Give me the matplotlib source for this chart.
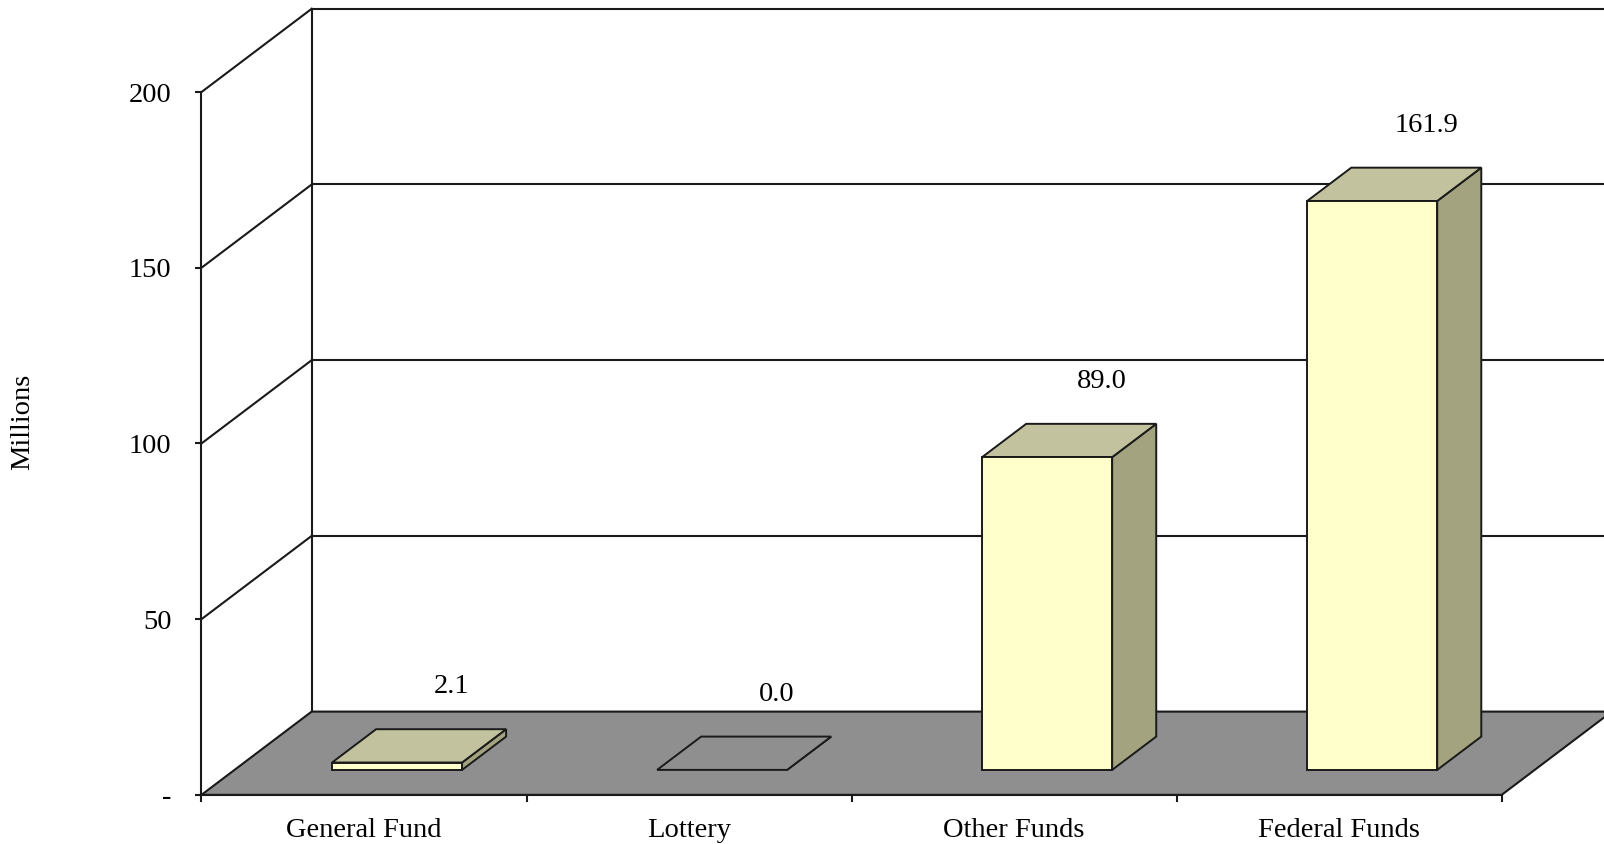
"""Funding by source, drawn as an Excel-style 3D column chart with plain 2D patches."""
import matplotlib
matplotlib.use("Agg")
import matplotlib.pyplot as plt
from matplotlib.patches import Polygon

CATEGORIES = ["General Fund", "Lottery", "Other Funds", "Federal Funds"]
VALUES = [2.1, 0.0, 89.0, 161.9]
Y_TICKS = [0, 50, 100, 150, 200]
Y_TICK_LABELS = ["-", "50", "100", "150", "200"]

FRONT = "#FFFFCC"; TOP = "#C2C29E"; SIDE = "#A3A380"; FLOOR = "#8F8F8F"; EDGE = "#1a1a1a"
DX, DY = 0.339, 23.7          # full depth of the box, in data units (x, y)
D_FRONT, D_BACK = 0.3, 0.7    # bars sit in the middle of the depth
HALF_W = 0.2                  # half bar width (category units)
FONT = "Liberation Serif"
FS = 20.5
LW = 1.5

plt.rcParams["font.family"] = FONT
fig = plt.figure(figsize=(16.04, 8.44), dpi=100)
ax = fig.add_axes([0.1256, 0.0582, 0.8106, 0.8327])
ax.set_xlim(0, len(CATEGORIES)); ax.set_ylim(0, 200)
for s in ["top", "right"]:
    ax.spines[s].set_visible(False)
for s in ["left", "bottom"]:
    ax.spines[s].set_color(EDGE); ax.spines[s].set_linewidth(LW)
ax.patch.set_visible(False)

# back wall: gridlines, slanted tick connectors and outline
far = len(CATEGORIES) + 1.0
for v in Y_TICKS[1:]:
    ax.plot([0, DX], [v, v + DY], color=EDGE, lw=LW, clip_on=False)
    ax.plot([DX, far], [v + DY, v + DY], color=EDGE, lw=LW, clip_on=False)
ax.plot([DX, DX], [DY, 200 + DY], color=EDGE, lw=LW, clip_on=False)

# floor
n = len(CATEGORIES)
ax.add_patch(Polygon([(0, 0), (n, 0), (n + DX, DY), (DX, DY)], closed=True,
                     facecolor=FLOOR, edgecolor=EDGE, lw=LW, clip_on=False, zorder=2))

# columns
for i, v in enumerate(VALUES):
    x0 = i + 0.5 - HALF_W + D_FRONT * DX
    x1 = i + 0.5 + HALF_W + D_FRONT * DX
    yb = D_FRONT * DY
    ddx, ddy = (D_BACK - D_FRONT) * DX, (D_BACK - D_FRONT) * DY
    top_fc = TOP if v > 0 else FLOOR
    kw = dict(closed=True, edgecolor=EDGE, lw=1.4, clip_on=False, zorder=3)
    ax.add_patch(Polygon([(x1, yb), (x1 + ddx, yb + ddy), (x1 + ddx, yb + ddy + v), (x1, yb + v)],
                         facecolor=SIDE, **kw))
    ax.add_patch(Polygon([(x0, yb + v), (x1, yb + v), (x1 + ddx, yb + v + ddy), (x0 + ddx, yb + v + ddy)],
                         facecolor=top_fc, **kw))
    if v > 0:
        ax.add_patch(Polygon([(x0, yb), (x1, yb), (x1, yb + v), (x0, yb + v)], facecolor=FRONT, **kw))
    ax.text(i + 0.5 + 0.27, v + 28.7, f"{v:.1f}", ha="center", va="center",
            fontsize=FS, color="black", zorder=5)

ax.set_yticks(Y_TICKS)
ax.set_yticklabels(Y_TICK_LABELS, fontsize=FS)
ax.tick_params(axis="y", length=4.5, width=LW, color=EDGE, pad=17)
ax.set_xticks([i + 0.5 for i in range(n)])
ax.set_xticklabels(CATEGORIES, fontsize=FS)
ax.set_xticks(range(n + 1), minor=True)
ax.tick_params(axis="x", which="major", length=0, pad=17)
ax.tick_params(axis="x", which="minor", length=5, width=LW, color=EDGE)

fig.text(22.5 / 1604, 1 - 421.5 / 844, "Millions", rotation=90, ha="center", va="center", fontsize=FS)

fig.savefig("out.png", dpi=100)
